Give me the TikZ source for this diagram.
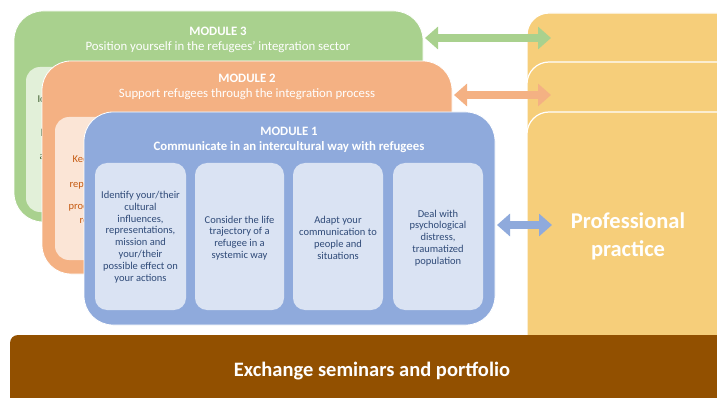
\documentclass[tikz,border=0pt]{standalone}
\usepackage{fontspec}
\setmainfont{Carlito}
\usetikzlibrary{arrows.meta}
\definecolor{gM}{HTML}{A9D18E}
\definecolor{gI}{HTML}{E2F0D9}
\definecolor{oM}{HTML}{F4B183}
\definecolor{oI}{HTML}{FBE5D6}
\definecolor{bM}{HTML}{8FAADC}
\definecolor{bI}{HTML}{DAE3F3}
\definecolor{yP}{HTML}{F6CE7A}
\definecolor{brn}{HTML}{925000}
\definecolor{btxt}{HTML}{2F4A78}
\definecolor{otxt}{HTML}{C55A11}
\definecolor{gtxt}{HTML}{3B5A2A}
\tikzset{
  module/.style={draw=white,line width=0.8pt,rounded corners=29pt},
  panel/.style={rounded corners=14pt},
  inbox/.style={fill=bI,draw=none,rounded corners=12pt},
  intext/.style={text=btxt,font=\fontsize{10.5}{11.8}\selectfont,align=center},
  title/.style={text=white,font=\fontsize{12.8}{15.5}\selectfont,align=center},
  pract/.style={fill=yP,draw=white,line width=1.2pt,rounded corners=22pt},
  frag/.style={anchor=base west,font=\fontsize{10.5}{11}\selectfont},
  dbl/.style={line width=8pt,{Triangle[length=13pt,width=22pt]}-{Triangle[length=13pt,width=22pt]}},
}
\begin{document}
\begin{tikzpicture}[x=1pt,y=-1pt]
\useasboundingbox (0,0) rectangle (717,398);
\clip (0,0) rectangle (717,398);
\fill[white] (0,0) rectangle (717,398);
% module 3
\draw[module,fill=gM] (14,11) rectangle (423,222);
\node[title] (t3) at (218,40) {\textbf{MODULE 3}\\Position yourself in the refugees’ integration sector};
\fill[gI,panel] (26,67) rectangle (200,212);
\node[frag,text=gtxt] (g1) at (34,103) {Ic};
\node[frag,text=gtxt] (g2) at (40,114) {c};
\node[frag,text=gtxt] (g3) at (37,137) {b};
\node[frag,text=gtxt] (g4) at (36,160) {a};
% module 2
\draw[module,fill=oM] (42,61) rectangle (452,274);
\node[title] (t2) at (247,87) {\textbf{MODULE 2}\\Support refugees through the integration process};
\fill[oI,panel] (55,117) rectangle (250,260);
\node[frag,text=otxt] (o1) at (69,163) {Kee};
\node[frag,text=otxt] (o2) at (66,188) {repr};
\node[frag,text=otxt] (o3) at (65,210) {proc};
\node[frag,text=otxt] (o4) at (76,223) {re};
% module 1
\draw[module,fill=bM] (84,112) rectangle (495,325);
\node[title] (t1) at (289,140) {\textbf{MODULE 1}\\\textbf{Communicate in an intercultural way with refugees}};
\fill[inbox] (95,163) rectangle (186,310);
\fill[inbox] (195,163) rectangle (284,310);
\fill[inbox] (293,163) rectangle (383,310);
\fill[inbox] (393,163) rectangle (483,310);
\node[intext] (b1) at (140.5,237) {Identify your/their\\cultural\\influences,\\representations,\\mission and\\your/their\\possible effect on\\your actions};
\node[intext] (b2) at (239.5,238) {Consider the life\\trajectory of a\\refugee in a\\systemic way};
\node[intext] (b3) at (338,238) {Adapt your\\communication to\\people and\\situations};
\node[intext] (b4) at (438,238) {Deal with\\psychological\\distress,\\traumatized\\population};
% professional practice
\draw[pract] (527,13) rectangle (760,360);
\draw[pract] (527,62) rectangle (760,360);
\draw[pract] (527,112) rectangle (760,360);
\node[text=white,font=\fontsize{22.5}{28}\selectfont\bfseries,align=center] (pp) at (628,236) {Professional\\practice};
% arrows
\coordinate (a3l) at (425,38); \coordinate (a3r) at (551,38);
\coordinate (a2l) at (454,95); \coordinate (a2r) at (551,95);
\coordinate (a1l) at (497,225); \coordinate (a1r) at (552,225);
\draw[dbl,gM] (a3l) -- (a3r);
\draw[dbl,oM] (a2l) -- (a2r);
\draw[dbl,bM] (a1l) -- (a1r);
% exchange bar
\fill[brn,rounded corners=8pt] (10,335) rectangle (760,420);
\node[text=white,font=\fontsize{20.5}{24}\selectfont\bfseries] (ex) at (372,371) {Exchange seminars and portfolio};
\end{tikzpicture}
\end{document}
